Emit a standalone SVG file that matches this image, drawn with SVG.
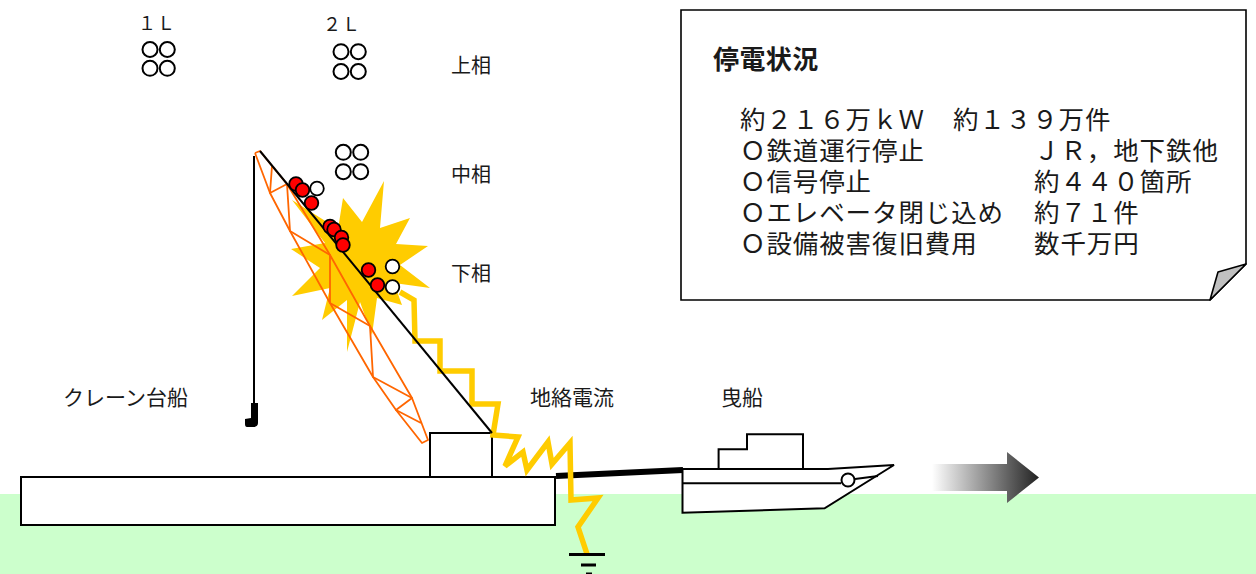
<svg xmlns="http://www.w3.org/2000/svg" width="1256" height="574" viewBox="0 0 1256 574">
<defs>
<style>
.ln{fill:none;stroke:#000;stroke-width:2}
.sh{fill:#fff;stroke:#000;stroke-width:2}
.cond{fill:#fff;stroke:#000;stroke-width:2}
.red{fill:#ff0000;stroke:#000;stroke-width:1.8}
.wht{fill:#fff;stroke:#000;stroke-width:1.8}
.boom{fill:none;stroke:#ff6600;stroke-width:1.8;stroke-linejoin:round}
.lbl{font-family:"Noto Sans CJK JP","Noto Sans",sans-serif;font-size:21px;fill:#1a1a1a}
.ph{font-family:"Noto Sans CJK JP","Noto Sans",sans-serif;font-size:20px;fill:#1a1a1a}
.ln1{font-family:"Noto Sans CJK JP","Noto Sans",sans-serif;font-size:18px;fill:#1a1a1a;letter-spacing:1px}
.bx{font-family:"Noto Sans CJK JP","Noto Sans",sans-serif;font-size:25.5px;fill:#1a1a1a;letter-spacing:0.9px}
</style>
<linearGradient id="arrg" gradientUnits="userSpaceOnUse" x1="932" y1="0" x2="1039" y2="0">
<stop offset="0" stop-color="#ffffff"/>
<stop offset="1" stop-color="#222222"/>
</linearGradient>
</defs>

<rect id="water" x="0" y="494" width="1256" height="80" fill="#ccffcc"/>

<g id="barge">
<rect class="sh" x="21" y="477" width="534" height="48"/>
<rect class="sh" x="430" y="433" width="62" height="44"/>
</g>

<g id="connectors">
<line id="towline" x1="556" y1="476" x2="683" y2="470" stroke="#000" stroke-width="6"/>
</g>

<g id="tugboat">
<polygon class="sh" points="682.5,469 828,469 894,465 824.6,508.3 682.5,512.7"/>
<line class="ln" x1="682.5" y1="483.3" x2="841" y2="483.3"/>
<circle class="sh" cx="848" cy="480" r="6.5"/>
<line class="ln" x1="855" y1="479" x2="878" y2="476"/>
<polygon class="sh" points="718.6,469 718.6,449.3 747,449.3 747,434.3 803,434.3 803,469"/>
</g>

<g id="arrow">
<polygon points="932,464 1007,464 1007,452 1039,477.5 1007,503 1007,491 932,491" fill="url(#arrg)"/>
</g>

<g id="explosion">
<polygon fill="#ffcc00" points="384,181 380,228 410,218 396,244 428,246 400,265 430,288 394,283 402,305 377,298 372,335 360,302 347,352 347,300 322,320 330,288 292,296 320,268 291,249 325,243 292,200 338,229 343,198 362,222"/>
</g>

<g id="crane">
<polyline class="boom" points="255,153 270,193 290,231 330,303 373,377 396,410 422,443 428,440 412,398 370,326 330,255 287,184 272,166 260,151 255,153"/>
<polyline class="boom" points="272,166 270,193 287,184 290,231 330,255 330,303 370,326 373,377 412,398 396,410 421,423"/>
<line class="ln" x1="254" y1="156" x2="254" y2="405"/>
<path d="M251,403 L258,403 L258,423 Q258,427 253,427 L247,427 Q245,427 245,424 L245,419 L251,418 Z" fill="#000"/>
</g>

<g id="fault-current">
<polyline fill="none" stroke="#ffcc00" stroke-width="5.5" stroke-linejoin="miter" points="400,292 414,300 415,341 440,341 440,371 472,371 472,404 498,404 493,435 518,437 505,466 523,452 527,470 548,442 552,464 570,443 571,500 598,498 578,527 587,554"/>
</g>

<g id="stay">
<line class="ln" x1="260" y1="151" x2="492" y2="433"/>
</g>

<g id="ground">
<line x1="569" y1="554.5" x2="605" y2="554.5" stroke="#000" stroke-width="3"/>
<line x1="581" y1="565" x2="596" y2="565" stroke="#000" stroke-width="3"/>
<line x1="586" y1="574" x2="592" y2="574" stroke="#000" stroke-width="3"/>
</g>

<g id="conductors-fallen">
<circle class="red" cx="296" cy="184" r="6.8"/>
<circle class="wht" cx="317" cy="188.5" r="6.8"/>
<circle class="red" cx="302.5" cy="190" r="6.8"/>
<circle class="red" cx="311.5" cy="203" r="6.8"/>
<circle class="red" cx="330" cy="226.5" r="6.8"/>
<circle class="red" cx="334" cy="229.5" r="6.8"/>
<circle class="red" cx="341.5" cy="237.5" r="6.8"/>
<circle class="red" cx="343" cy="245" r="6.8"/>
<circle class="red" cx="368.5" cy="270" r="6.8"/>
<circle class="wht" cx="392.5" cy="266.5" r="6.8"/>
<circle class="red" cx="377.5" cy="285" r="6.8"/>
<circle class="wht" cx="392.5" cy="287" r="6.8"/>
</g>

<g id="line1">
<text class="ln1" x="138" y="30">１Ｌ</text>
<circle class="cond" cx="150" cy="49.5" r="7.5"/>
<circle class="cond" cx="167.3" cy="49.5" r="7.5"/>
<circle class="cond" cx="150" cy="68.3" r="7.5"/>
<circle class="cond" cx="167.3" cy="68.3" r="7.5"/>
</g>

<g id="line2">
<text class="ln1" x="323" y="30.5">２Ｌ</text>
<circle class="cond" cx="341" cy="51.7" r="7.5"/>
<circle class="cond" cx="358.3" cy="51.7" r="7.5"/>
<circle class="cond" cx="341" cy="71.5" r="7.5"/>
<circle class="cond" cx="358.3" cy="71.5" r="7.5"/>
<circle class="cond" cx="343.3" cy="152.3" r="7.5"/>
<circle class="cond" cx="360.7" cy="152.3" r="7.5"/>
<circle class="cond" cx="343.3" cy="171.7" r="7.5"/>
<circle class="cond" cx="360.7" cy="171.7" r="7.5"/>
</g>

<g id="phase-labels">
<text class="ph" x="451" y="72.5">上相</text>
<text class="ph" x="451" y="182">中相</text>
<text class="ph" x="451" y="281">下相</text>
</g>

<g id="labels">
<text class="lbl" x="63" y="405">クレーン台船</text>
<text class="lbl" x="530" y="405">地絡電流</text>
<text class="lbl" x="721" y="405">曳船</text>
</g>

<g id="status-box">
<path d="M681,10 H1246 V264 L1210,300 H681 Z" fill="#fff" stroke="#000" stroke-width="1.6"/>
<polygon points="1246,264 1218,272 1210,300" fill="#c0c0c0" stroke="#000" stroke-width="1.6" stroke-linejoin="round"/>
<text class="bx" x="713" y="68.5" font-weight="bold" style="font-size:26px;letter-spacing:0.4px">停電状況</text>
<text class="bx"><tspan x="740" y="129">約２１６万ｋＷ</tspan><tspan x="953" y="129">約１３９万件</tspan><tspan x="740" y="160">Ｏ鉄道運行停止</tspan><tspan x="1034" y="160">ＪＲ，地下鉄他</tspan><tspan x="740" y="191">Ｏ信号停止</tspan><tspan x="1034" y="191">約４４０箇所</tspan><tspan x="740" y="222">Ｏエレベータ閉じ込め</tspan><tspan x="1034" y="222">約７１件</tspan><tspan x="740" y="253">Ｏ設備被害復旧費用</tspan><tspan x="1034" y="253">数千万円</tspan></text>
</g>
</svg>
